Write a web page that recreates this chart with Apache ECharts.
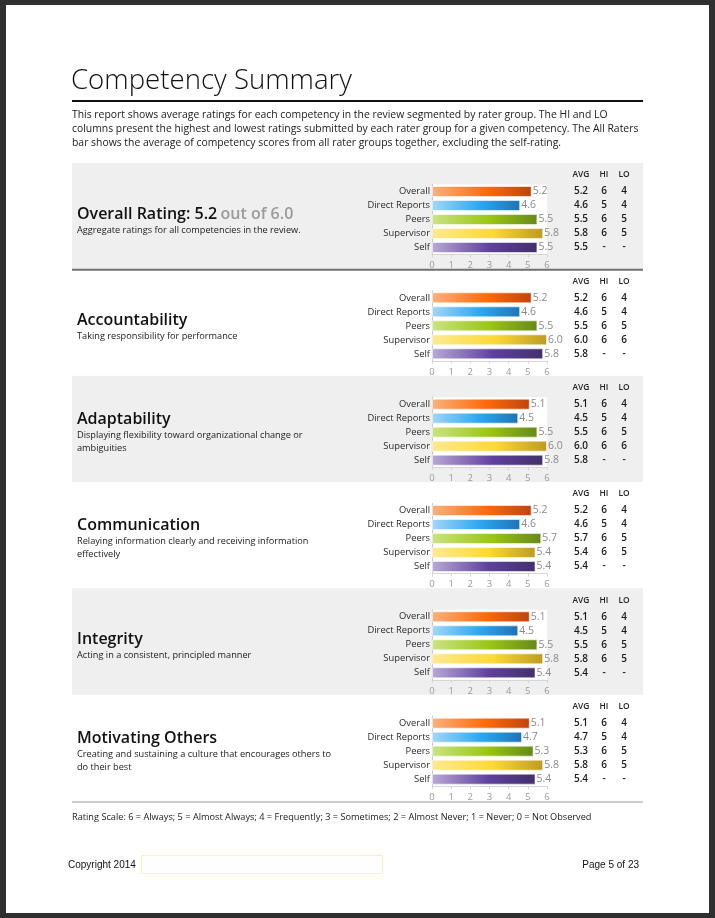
<!DOCTYPE html>
<html><head><meta charset="utf-8">
<script src="https://cdn.jsdelivr.net/npm/echarts@6/dist/echarts.min.js"></script>
<style>html,body{margin:0;padding:0;background:#2f2f2f}#c{width:715px;height:918px}</style>
</head><body><div id="c"></div>
<script>
// ---- data ----
const categories = ['Overall', 'Direct Reports', 'Peers', 'Supervisor', 'Self'];
const competencies = ['Overall Rating', 'Accountability', 'Adaptability', 'Communication', 'Integrity', 'Motivating Others'];
const descriptions = [
  'Aggregate ratings for all competencies in the review.',
  'Taking responsibility for performance',
  'Displaying flexibility toward organizational change or\nambiguities',
  'Relaying information clearly and receiving information\neffectively',
  'Acting in a consistent, principled manner',
  'Creating and sustaining a culture that encourages others to\ndo their best'
];
const avgOverall        = [5.2, 4.6, 5.5, 5.8, 5.5];
const avgAccountability = [5.2, 4.6, 5.5, 6.0, 5.8];
const avgAdaptability   = [5.1, 4.5, 5.5, 6.0, 5.8];
const avgCommunication  = [5.2, 4.6, 5.7, 5.4, 5.4];
const avgIntegrity      = [5.1, 4.5, 5.5, 5.8, 5.4];
const avgMotivating     = [5.1, 4.7, 5.3, 5.8, 5.4];
const hiOverall        = ['6', '5', '6', '6', '-'];
const loOverall        = ['4', '4', '5', '5', '-'];
const hiAccountability = ['6', '5', '6', '6', '-'];
const loAccountability = ['4', '4', '5', '6', '-'];
const hiAdaptability   = ['6', '5', '6', '6', '-'];
const loAdaptability   = ['4', '4', '5', '6', '-'];
const hiCommunication  = ['6', '5', '6', '6', '-'];
const loCommunication  = ['4', '4', '5', '5', '-'];
const hiIntegrity      = ['6', '5', '6', '6', '-'];
const loIntegrity      = ['4', '4', '5', '5', '-'];
const hiMotivating     = ['6', '5', '6', '6', '-'];
const loMotivating     = ['4', '4', '5', '5', '-'];
const xTicks = [0, 1, 2, 3, 4, 5, 6];
const overallScore = 5.2;
const scaleMax = 6.0;

const avgs = [avgOverall, avgAccountability, avgAdaptability, avgCommunication, avgIntegrity, avgMotivating];
const his = [hiOverall, hiAccountability, hiAdaptability, hiCommunication, hiIntegrity, hiMotivating];
const los = [loOverall, loAccountability, loAdaptability, loCommunication, loIntegrity, loMotivating];

// ---- styles ----
const barGrad = [
  ['#f9b27e', '#ff6a08', '#c0440e'],
  ['#a2d7f8', '#2ba7f0', '#1f73b6'],
  ['#cbe382', '#99c612', '#66891a'],
  ['#fdea90', '#fdd836', '#bd9b22'],
  ['#b8a9d5', '#5f409e', '#42306a']
];
const F = '"Open Sans", "Noto Sans", sans-serif';
const chart = echarts.init(document.getElementById('c'), null, {renderer: 'canvas'});

const X0 = 72, X1 = 643, TOP0 = 163, SH = 106.33;
const graphics = [];
// page
graphics.push({type: 'rect', z: -20, shape: {x: 6, y: 5, width: 703, height: 908}, style: {fill: '#ffffff'}});
// title
graphics.push({type: 'text', z: 10, x: X0 - 1, y: 81, style: {text: 'Competency Summary', font: '300 27.6px ' + F, fill: '#111', textVerticalAlign: 'middle'}});
graphics.push({type: 'rect', z: 10, shape: {x: X0, y: 100, width: X1 - X0, height: 2}, style: {fill: '#111'}});
graphics.push({type: 'text', z: 10, x: X0, y: 108, style: {
  text: 'This report shows average ratings for each competency in the review segmented by rater group. The HI and LO\ncolumns present the highest and lowest ratings submitted by each rater group for a given competency. The All Raters\nbar shows the average of competency scores from all rater groups together, excluding the self-rating.',
  font: '10.4px ' + F, fill: '#1a1a1a', lineHeight: 14}});

const grids = [], xAxes = [], yAxes = [], series = [];
for (let s = 0; s < 6; s++) {
  const T = TOP0 + s * SH;
  if (s % 2 === 0) {
    graphics.push({type: 'rect', z: -10, shape: {x: X0, y: T, width: X1 - X0, height: SH}, style: {fill: '#efefef'}});
  }
  // heading + description
  const nLines = descriptions[s].split('\n').length;
  const hy = nLines > 1 ? T + 43.5 : T + 51;
  if (s === 0) {
    graphics.push({type: 'text', z: 10, x: 77, y: hy, style: {
      text: '{a|' + competencies[s] + ': ' + overallScore.toFixed(1) + '} {b|out of ' + scaleMax.toFixed(1) + '}',
      rich: {a: {font: '600 16px ' + F, fill: '#111'}, b: {font: '600 16px ' + F, fill: '#9a9a9a'}},
      verticalAlign: 'middle'}});
  } else {
    graphics.push({type: 'text', z: 10, x: 77, y: hy, style: {text: competencies[s], font: '600 16px ' + F, fill: '#111', verticalAlign: 'middle'}});
  }
  graphics.push({type: 'text', z: 10, x: 77, y: hy + 9.5, style: {text: descriptions[s], font: '9.2px ' + F, fill: '#1a1a1a', lineHeight: 13}});
  // table
  const cols = [581, 604, 624];
  ['AVG', 'HI', 'LO'].forEach((h, k) => graphics.push({type: 'text', z: 10, x: cols[k], y: T + 12,
    style: {text: h, font: '600 8.4px ' + F, fill: '#222', align: 'center', verticalAlign: 'middle'}}));
  for (let r = 0; r < categories.length; r++) {
    const ry = T + 28.5 + r * 14;
    const vals = [avgs[s][r].toFixed(1), his[s][r], los[s][r]];
    vals.forEach((v, k) => graphics.push({type: 'text', z: 10, x: cols[k], y: ry,
      style: {text: v, font: '600 10px ' + F, fill: '#1a1a1a', align: 'center', verticalAlign: 'middle'}}));
  }
  // chart
  grids.push({left: 432, width: 115, top: T + 21.5, height: 70, show: true, backgroundColor: '#ffffff', borderWidth: 0, containLabel: false});
  xAxes.push({type: 'value', gridIndex: s, min: xTicks[0], max: xTicks[xTicks.length - 1], interval: 1,
    axisLine: {show: true, lineStyle: {color: '#d6d6d6', width: 1}},
    axisTick: {show: true, length: 3, lineStyle: {color: '#d6d6d6'}},
    axisLabel: {fontSize: 9.5, fontFamily: F, color: '#9a9a9a', margin: 6},
    splitLine: {show: false}});
  yAxes.push({type: 'category', gridIndex: s, data: categories, inverse: true,
    axisLine: {show: true, lineStyle: {color: '#c8c8c8'}}, axisTick: {show: false},
    axisLabel: {fontSize: 9.4, fontFamily: F, color: '#2a2a2a', margin: 2}});
  series.push({type: 'bar', xAxisIndex: s, yAxisIndex: s, barWidth: 11, animation: false,
    data: avgs[s].map((v, i) => ({value: v, itemStyle: {color: new echarts.graphic.LinearGradient(0, 0, 1, 0, [
      {offset: 0, color: barGrad[i][0]}, {offset: 0.55, color: barGrad[i][1]}, {offset: 1, color: barGrad[i][2]}])}})),
    itemStyle: {borderColor: 'rgba(255,255,255,0.55)', borderWidth: 1},
    label: {show: true, position: 'right', distance: 1, fontSize: 10.5, fontFamily: F, color: '#8a8a8a',
      formatter: p => p.value.toFixed(1)}});
}
// separators
graphics.push({type: 'rect', z: 10, shape: {x: X0, y: TOP0 + SH - 0.5, width: X1 - X0, height: 2}, style: {fill: '#707070'}});
graphics.push({type: 'rect', z: 10, shape: {x: X0, y: TOP0 + 6 * SH, width: X1 - X0, height: 2}, style: {fill: '#cccccc'}});
// footer
graphics.push({type: 'text', z: 10, x: X0, y: 817, style: {
  text: 'Rating Scale: 6 = Always; 5 = Almost Always; 4 = Frequently; 3 = Sometimes; 2 = Almost Never; 1 = Never; 0 = Not Observed',
  font: '9.2px ' + F, fill: '#1a1a1a', verticalAlign: 'middle'}});
graphics.push({type: 'text', z: 10, x: 68, y: 865.5, style: {text: 'Copyright 2014', font: '10px "Liberation Sans", Arial, sans-serif', fill: '#111', verticalAlign: 'middle'}});
graphics.push({type: 'rect', z: 10, shape: {x: 141.5, y: 855.5, width: 241, height: 18}, style: {fill: 'none', stroke: '#f6f2b8', lineWidth: 1}});
graphics.push({type: 'text', z: 10, x: 639, y: 865.5, style: {text: 'Page 5 of 23', font: '10px "Liberation Sans", Arial, sans-serif', fill: '#111', align: 'right', verticalAlign: 'middle'}});

chart.setOption({
  backgroundColor: '#2f2f2f',
  animation: false,
  grid: grids, xAxis: xAxes, yAxis: yAxes, series: series,
  graphic: {elements: graphics}
});
</script></body></html>
